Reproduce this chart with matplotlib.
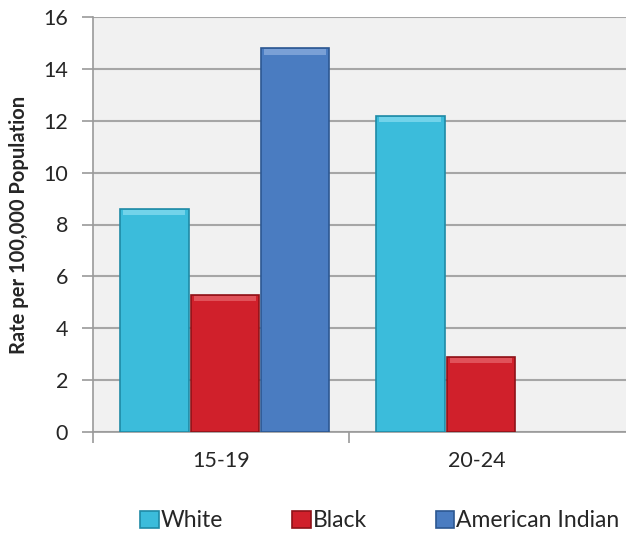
import numpy as np
from matplotlib import pyplot as plt

groupes = ['15-19', '20-24']
white = [8.6, 12.2]
black = [5.3, 2.9]
american_indian = [14.8, np.nan]

series = ['White', 'Black', 'American Indian']
couleurs = ['#3bbcdb', '#d0202b', '#4a7cc1']
bords = ['#1f8aa6', '#8e1218', '#2c5791']
clairs = ['#72d3ea', '#e0525a', '#7aa0d6']

plt.rcParams['font.family'] = ['Lato', 'DejaVu Sans']

fig = plt.figure(figsize=(6.26, 5.38), dpi=100)
ax = fig.add_axes([93/626, 106/538, 533/626, 415/538])
ax.set_facecolor('#f1f1f1')

x = np.arange(len(groupes))
largeur = 0.275
valeurs = [white, black, american_indian]
for i, v in enumerate(valeurs):
    pos = x + (i - 1) * largeur + 0.015
    v = np.array(v, dtype=float)
    ax.bar(pos, v, largeur * 0.97, color=couleurs[i], edgecolor=bords[i],
           linewidth=1.2, label=series[i], zorder=3)
    # petit reflet en haut des barres
    ax.bar(pos, 0.2, largeur * 0.88, bottom=v - 0.25, color=clairs[i],
           linewidth=0, zorder=4)

ax.set_ylim(0, 16)
ax.set_yticks(range(0, 17, 2))
ax.set_xlim(-0.5, -0.5 + 533/256)
ax.set_xticks(x)
ax.set_xticklabels(groupes)
ax.set_xticks([-0.5, 0.5], minor=True)
ax.tick_params(axis='x', which='major', length=0, pad=14, labelsize=15.5, labelcolor='#262626')
ax.tick_params(axis='x', which='minor', length=8, color='#9a9a9a', width=1.2)
ax.tick_params(axis='y', length=8, color='#9a9a9a', width=1.2, labelsize=15.5, labelcolor='#262626', pad=10)

ax.grid(axis='y', color='#a6a6a6', linewidth=1.5, zorder=0)
for s in ['top', 'right']:
    ax.spines[s].set_visible(False)
ax.spines['left'].set_color('#9a9a9a')
ax.spines['bottom'].set_color('#9a9a9a')
ax.spines['left'].set_linewidth(1.2)
ax.spines['bottom'].set_linewidth(1.2)

ax.set_ylabel('Rate per 100,000 Population', fontsize=14.5, fontweight='bold', color='#262626', labelpad=10)

h, l = ax.get_legend_handles_labels()
fig.legend(h, l, loc='center', bbox_to_anchor=(0.607, 0.032), ncol=3, frameon=False,
           fontsize=16.5, handlelength=0.8, handleheight=0.8, handletextpad=0.1,
           columnspacing=3.0, labelcolor='#262626')

fig.savefig('out.png', dpi=100)
